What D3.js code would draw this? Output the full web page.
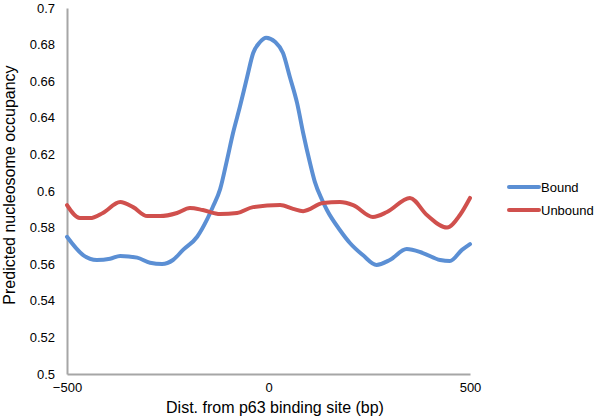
<!DOCTYPE html>
<html><head><meta charset="utf-8">
<script src="https://cdn.jsdelivr.net/npm/d3@7"></script>
<style>body{margin:0;background:#fff}svg{display:block}text{font-family:"Liberation Sans",Arial,Helvetica,sans-serif;fill:#000}</style>
</head><body><svg id="c" width="600" height="417"></svg>
<script>
const seriesNames = ["Bound", "Unbound"];
const boundX = [-500,-460,-426,-393,-368,-326,-294,-264,-237,-212,-177,-153,-138,-120,-103,-88,-71,-53,-38,-21,-6,16,36,53,71,86,103,115,133,145,177,202,234,268,301,343,383,426,450,480,500];
const boundY = [0.575,0.565,0.5623,0.563,0.5645,0.5636,0.5608,0.5601,0.5623,0.5678,0.575,0.5842,0.5914,0.601,0.6169,0.6317,0.646,0.6623,0.6754,0.6814,0.6838,0.6816,0.6754,0.6623,0.648,0.6317,0.6153,0.605,0.5951,0.5896,0.5787,0.5716,0.565,0.5596,0.5623,0.5683,0.5661,0.5623,0.5617,0.5678,0.571];
const unboundX = [-500,-468,-443,-411,-368,-336,-301,-269,-227,-195,-163,-120,-78,-38,29,61,86,135,177,210,259,294,351,393,443,475,500];
const unboundY = [0.5923,0.5852,0.5852,0.588,0.594,0.5912,0.5863,0.5863,0.588,0.5907,0.5896,0.5874,0.588,0.5912,0.5923,0.5902,0.589,0.5934,0.594,0.5923,0.5858,0.5885,0.5962,0.5869,0.58,0.5869,0.5962];
const yTicks = [0.5,0.52,0.54,0.56,0.58,0.6,0.62,0.64,0.66,0.68,0.7];
const xTicks = [-500,0,500];
const colors = ["#5b8fd4","#d0504d"];

const svg = d3.select("#c");
const x = d3.scaleLinear().domain([-500,500]).range([67,470]);
const y = d3.scaleLinear().domain([0.5,0.7]).range([374,8]);

// axes
const yAxis = svg.append("g").attr("transform","translate(67,0)")
  .call(d3.axisLeft(y).tickValues(yTicks).tickSize(0).tickPadding(12).tickFormat(d=>String(+d.toFixed(2))));
yAxis.select(".domain").attr("stroke","#a6a6a6").attr("stroke-width",2);
yAxis.selectAll("text").attr("font-size",13).style("font-family",'"Liberation Sans",Arial,sans-serif');

const xAxis = svg.append("g").attr("transform","translate(0,374)")
  .call(d3.axisBottom(x).tickValues(xTicks).tickSize(0).tickPadding(9).tickFormat(d3.format("d")));
xAxis.select(".domain").attr("stroke","#a6a6a6").attr("stroke-width",2);
xAxis.selectAll("text").attr("font-size",13).style("font-family",'"Liberation Sans",Arial,sans-serif');

// lines
const line = d3.line().x(d=>x(d[0])).y(d=>y(d[1])).curve(d3.curveMonotoneX);
const data = [d3.zip(boundX,boundY), d3.zip(unboundX,unboundY)];
data.forEach((d,i)=>{
  svg.append("path").datum(d).attr("d",line).attr("fill","none")
    .attr("stroke",colors[i]).attr("stroke-width",4).attr("stroke-linejoin","round").attr("stroke-linecap","round");
});

// titles
svg.append("text").attr("x",275).attr("y",413).attr("text-anchor","middle").attr("font-size",16)
  .text("Dist. from p63 binding site (bp)");
svg.append("text").attr("transform","translate(15,185) rotate(-90)").attr("text-anchor","middle").attr("font-size",16)
  .text("Predicted nucleosome occupancy");

// legend
seriesNames.forEach((n,i)=>{
  const ly = 187 + i*23;
  svg.append("line").attr("x1",509).attr("x2",539).attr("y1",ly).attr("y2",ly)
    .attr("stroke",colors[i]).attr("stroke-width",4).attr("stroke-linecap","round");
  svg.append("text").attr("x",541).attr("y",ly+5).attr("font-size",13).text(n);
});
</script></body></html>
